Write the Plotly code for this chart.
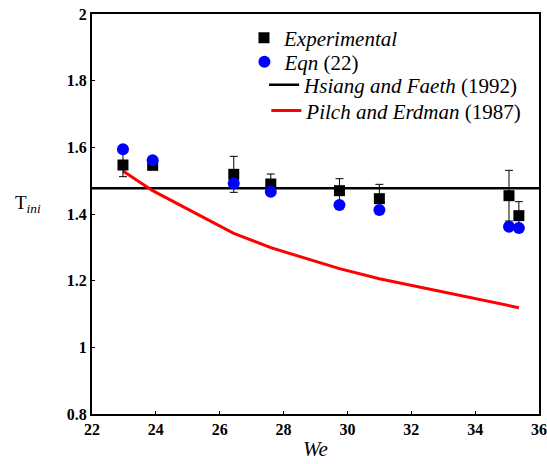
import plotly.graph_objects as go

we = [22.97, 23.9, 26.44, 27.6, 29.75, 31.0, 35.06, 35.37]
t_exp = [1.547, 1.546, 1.519, 1.490, 1.470, 1.446, 1.455, 1.395]
t_err = [0.035, 0.010, 0.054, 0.030, 0.036, 0.043, 0.076, 0.042]
t_eqn = [1.594, 1.561, 1.492, 1.467, 1.427, 1.412, 1.362, 1.358]

we_hf = [22, 36]
t_hf = [1.477, 1.477]

we_pe = [22.97, 23.9, 26.44, 27.6, 29.75, 31.0, 35.37]
t_pe = [1.529, 1.470, 1.342, 1.299, 1.236, 1.206, 1.119]

serif = "Times New Roman, Liberation Serif, serif"

fig = go.Figure()
fig.add_trace(go.Scatter(x=we_hf, y=t_hf, mode="lines", name="<i>Hsiang and Faeth</i> (1992)",
                         line=dict(color="black", width=2.5), legend="legend3"))
fig.add_trace(go.Scatter(x=we_pe, y=t_pe, mode="lines", name="<i>Pilch and Erdman</i> (1987)",
                         line=dict(color="#ff0000", width=3), legend="legend4"))
fig.add_trace(go.Scatter(x=we, y=t_exp, mode="markers", name="<i>Experimental</i>",
                         marker=dict(symbol="square", size=11, color="black"),
                         error_y=dict(type="data", array=t_err, color="black", thickness=1, width=4),
                         legend="legend"))
fig.add_trace(go.Scatter(x=we, y=t_eqn, mode="markers", name="<i>Eqn</i> (22)",
                         marker=dict(symbol="circle", size=12, color="#0000ff"),
                         legend="legend2"))

axis_common = dict(showline=True, linecolor="black", linewidth=2, mirror=True,
                   ticks="inside", ticklen=3, tickcolor="black", showgrid=False, zeroline=False,
                   automargin=False, ticklabeloverflow="allow",
                   tickfont=dict(family=serif, size=16, color="black", weight=700))

fig.update_xaxes(range=[22, 36], dtick=2, tick0=22,
                 title=dict(text="<i>We</i>", font=dict(family=serif, size=21, color="black"), standoff=4),
                 **axis_common)
fig.update_yaxes(range=[0.8, 2], dtick=0.2, tick0=0.8, **axis_common)

fig.add_annotation(text="T<sub><i>ini</i></sub>", xref="paper", yref="paper", x=-0.176, y=0.525,
                   showarrow=False, xanchor="left", yanchor="middle",
                   font=dict(family=serif, size=19, color="black"))

leg_font = dict(family=serif, size=21, color="black")
def leg(x, y):
    return dict(x=x, y=y, xanchor="left", yanchor="middle", bgcolor="rgba(0,0,0,0)",
                font=leg_font, itemwidth=30, borderwidth=0)

fig.update_layout(
    width=547, height=464,
    margin=dict(l=92, r=8, t=14, b=50),
    paper_bgcolor="white", plot_bgcolor="white",
    legend=leg(0.340, 0.940),
    legend2=leg(0.341, 0.880),
    legend3=leg(0.385, 0.822),
    legend4=leg(0.390, 0.758),
    showlegend=True,
)

fig.write_html("out.html",
               config={"displayModeBar": False},
               post_script="document.body.style.margin='0';document.body.style.overflow='hidden';")
